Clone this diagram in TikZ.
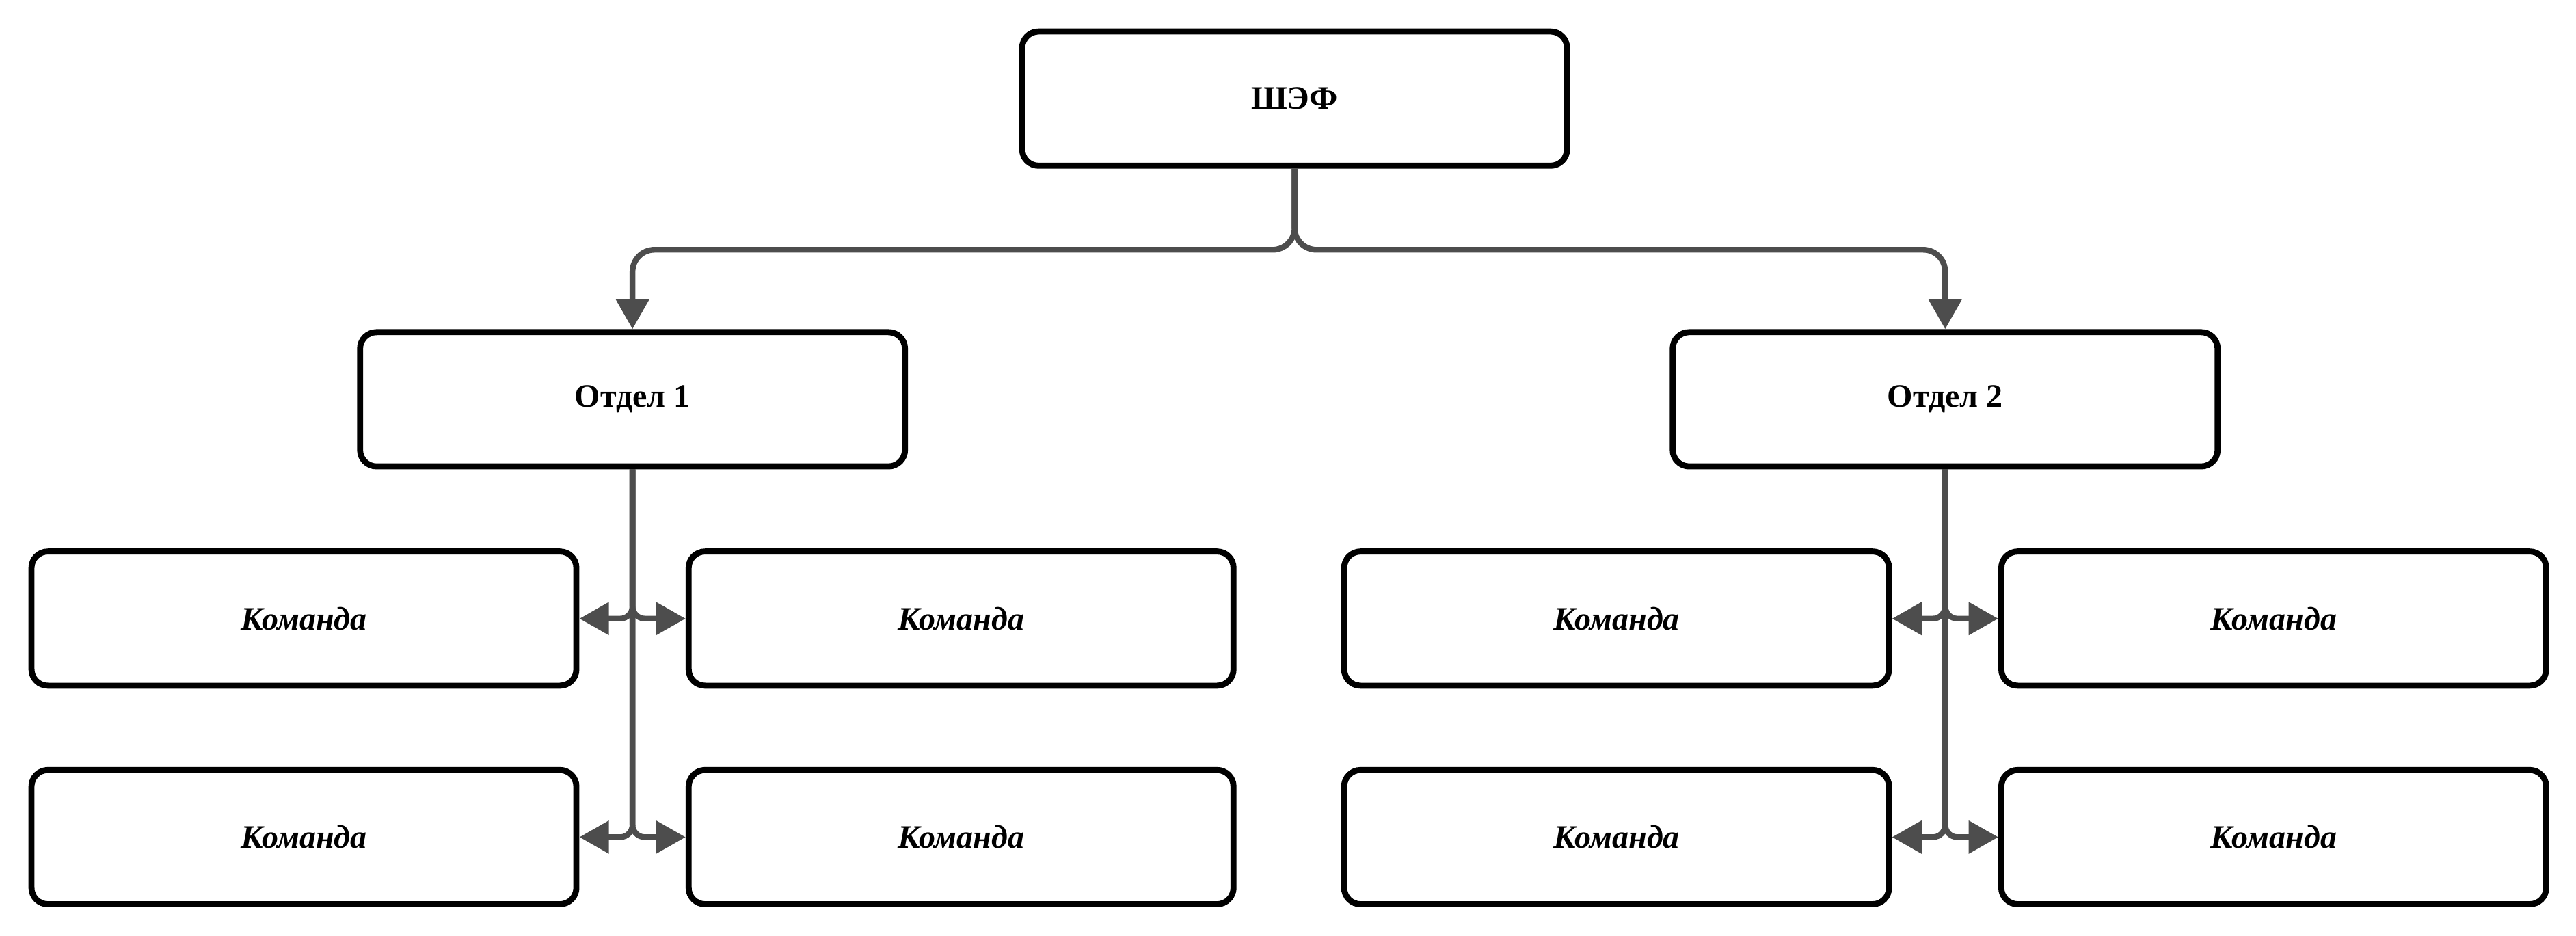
\documentclass[tikz,border=0pt]{standalone}
\usepackage{fontspec}
\setmainfont{Liberation Serif}
\usetikzlibrary{arrows.meta}
\definecolor{cgray}{HTML}{4D4D4D}
\begin{document}
\begin{tikzpicture}[x=0.6pt,y=-0.6pt,
  box/.style={draw=black, line width=2.2pt, rounded corners=6pt,
    minimum width=199pt, minimum height=49pt, fill=white, inner sep=0pt,
    font=\fontsize{12}{14}\selectfont\bfseries},
  team/.style={box, font=\fontsize{12}{14}\selectfont\bfseries\itshape},
  conn/.style={draw=cgray, line width=2.1pt, rounded corners=8pt,
    -{Triangle[length=10.8pt,width=11.6pt]}},
  branch/.style={conn, rounded corners=4.5pt}
]
\useasboundingbox (0,0) rectangle (1568,569.3);

\node[box] (chef) at (788,60) {ШЭФ};
\node[box] (o1) at (385,243) {Отдел 1};
\node[box] (o2) at (1184,243) {Отдел 2};

\node[team] (a1) at (185,376.5) {Команда};
\node[team] (a2) at (585,376.5) {Команда};
\node[team] (a3) at (185,509.5) {Команда};
\node[team] (a4) at (585,509.5) {Команда};

\node[team] (b1) at (984,376.5) {Команда};
\node[team] (b2) at (1384,376.5) {Команда};
\node[team] (b3) at (984,509.5) {Команда};
\node[team] (b4) at (1384,509.5) {Команда};

\coordinate (bus) at (788,152);
\draw[conn] (chef.south) -- (bus) -| (o1.north);
\draw[conn] (chef.south) -- (bus) -| (o2.north);

\foreach \t in {a1,a2,a3,a4}{
  \draw[branch] (o1.south) |- (\t);
}
\foreach \t in {b1,b2,b3,b4}{
  \draw[branch] (o2.south) |- (\t);
}
\end{tikzpicture}
\end{document}
